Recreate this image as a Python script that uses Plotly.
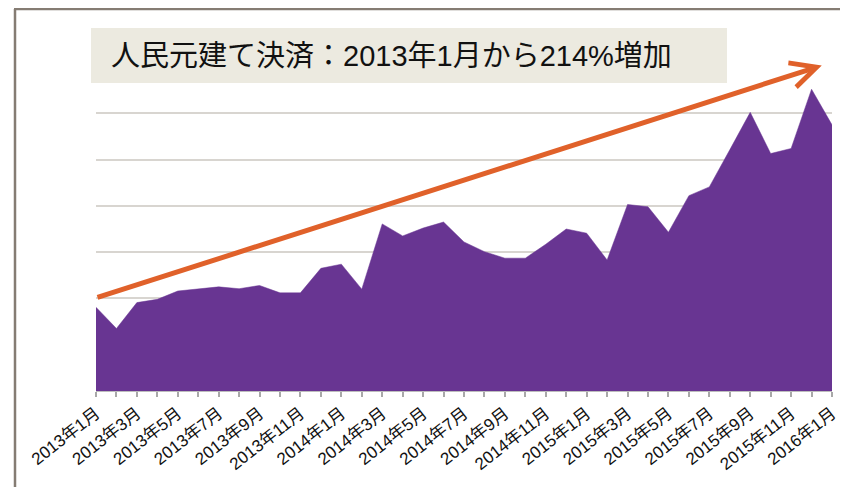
import plotly.graph_objects as go

months = [
    "2013年1月", "2013年2月", "2013年3月", "2013年4月", "2013年5月", "2013年6月",
    "2013年7月", "2013年8月", "2013年9月", "2013年10月", "2013年11月", "2013年12月",
    "2014年1月", "2014年2月", "2014年3月", "2014年4月", "2014年5月", "2014年6月",
    "2014年7月", "2014年8月", "2014年9月", "2014年10月", "2014年11月", "2014年12月",
    "2015年1月", "2015年2月", "2015年3月", "2015年4月", "2015年5月", "2015年6月",
    "2015年7月", "2015年8月", "2015年9月", "2015年10月", "2015年11月", "2015年12月",
    "2016年1月",
]
values = [
    18.1, 13.5, 19.1, 19.8, 21.6, 22.1, 22.5, 22.1, 22.8, 21.2, 21.2, 26.5,
    27.4, 22.0, 36.1, 33.5, 35.2, 36.5, 32.2, 30.1, 28.7, 28.7, 31.7, 35.0,
    34.1, 28.3, 40.3, 39.8, 34.3, 42.2, 44.1, 52.1, 60.2, 51.3, 52.4, 65.2,
    57.5,
]
tick_labels = [m if i % 2 == 0 else "" for i, m in enumerate(months)]
title_text = "人民元建て決済：2013年1月から214%増加"
trend_start = 20.1   # trend arrow start value (2013年1月)
trend_end = 70.3     # trend arrow end value
trend_end_x = 35.5   # arrow tip position (category index)

PURPLE = "#683592"
ORANGE = "#E0612A"
FRAME = "#857C73"
FONT = "Liberation Sans, Arial, Noto Sans CJK JP, sans-serif"

fig = go.Figure()
fig.add_trace(go.Scatter(
    x=months, y=values, mode="lines", fill="tozeroy",
    line=dict(color=PURPLE, width=0.5), fillcolor=PURPLE,
    hoverinfo="x+y", showlegend=False,
))

# the page body has an 8px margin; figure sized so that no scrollbars appear
OFF = 8
W, H = 833, 480
L, R, T, B = 88, 9, 59, 97
pw, ph = W - L - R, H - T - B

def px_x(p):  # page pixel -> paper x
    return (p - OFF - L) / pw

def px_y(p):  # page pixel -> paper y
    return (H - B - (p - OFF)) / ph

fig.update_layout(
    template="none",
    width=W, height=H,
    margin=dict(l=L, r=R, t=T, b=B, autoexpand=False),
    paper_bgcolor="white", plot_bgcolor="white",
    font=dict(family=FONT, color="#111111"),
    xaxis=dict(
        type="category", range=[0, len(months) - 1], automargin=False,
        tickmode="array", tickvals=months, ticktext=tick_labels,
        tickangle=-38, tickfont=dict(size=17, color="#111111"),
        ticks="outside", ticklen=5, tickwidth=1.5, tickcolor="#A8A8A8",
        showline=True, linecolor="#BDBDBD", linewidth=1,
        showgrid=False, zeroline=False,
    ),
    yaxis=dict(
        range=[0, 70], dtick=10, showticklabels=False, automargin=False,
        showgrid=True, gridcolor="#D8D5D0", gridwidth=2,
        zeroline=False, showline=False, ticks="",
    ),
    shapes=[
        dict(type="line", xref="paper", yref="paper", layer="below",
             x0=px_x(15), x1=px_x(15), y0=px_y(9), y1=px_y(487),
             line=dict(color=FRAME, width=2.5)),
        dict(type="line", xref="paper", yref="paper", layer="below",
             x0=px_x(14), x1=px_x(840), y0=px_y(9), y1=px_y(9),
             line=dict(color=FRAME, width=2.5)),
        dict(type="rect", xref="paper", yref="paper", layer="above",
             x0=px_x(91), x1=px_x(727), y0=px_y(83), y1=px_y(28),
             line=dict(width=0), fillcolor="#ECEAE0"),
    ],
    annotations=[
        dict(text=title_text, xref="paper", yref="paper",
             x=px_x(109), y=px_y(56), xanchor="left", yanchor="middle",
             showarrow=False, font=dict(size=29, color="#111111", family=FONT)),
        dict(text="", xref="x", yref="y", axref="x", ayref="y",
             x=trend_end_x, y=trend_end, ax=0, ay=trend_start,
             showarrow=True, arrowhead=5, arrowsize=1, arrowwidth=5,
             arrowcolor=ORANGE, standoff=0, startstandoff=0),
    ],
)

fig.write_html("out.html")
